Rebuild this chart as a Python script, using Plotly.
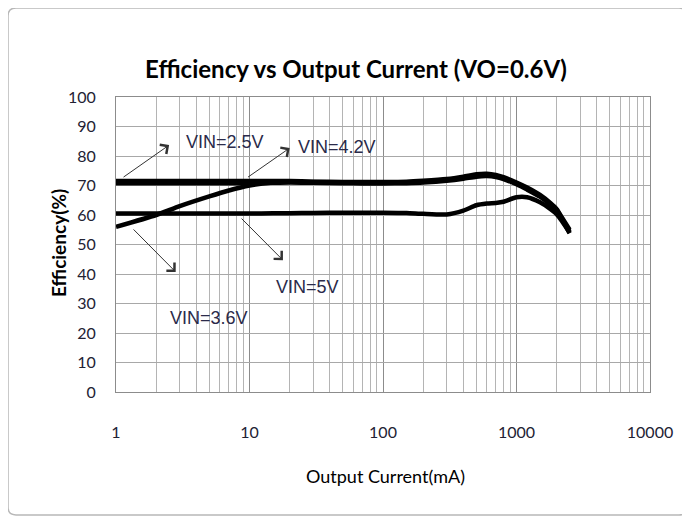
import plotly.graph_objects as go
import numpy as np

# ---- data ----
current_ma = [1, 2, 3, 5, 7, 10, 15, 20, 30, 50, 70, 100, 150, 200, 300, 400, 500, 600, 700, 800,
              1000, 1200, 1500, 1800, 2000, 2200, 2500]
eff_vin_2p5 = [71.5, 71.5, 71.5, 71.5, 71.5, 71.5, 71.5, 71.5, 71.3, 71.2, 71.2, 71.2, 71.3, 71.6, 72.2,
               73.0, 73.8, 74.0, 73.6, 72.8, 71.0, 69.3, 66.8, 64.0, 62.0, 59.0, 55.0]
eff_vin_4p2 = [70.8, 70.8, 70.8, 70.8, 70.8, 70.8, 70.9, 71.0, 70.9, 70.8, 70.7, 70.7, 70.8, 71.0, 71.6,
               72.3, 73.0, 73.2, 72.9, 72.2, 70.4, 68.6, 66.2, 63.4, 61.4, 58.4, 53.8]
eff_vin_3p6 = [56.0, 60.0, 63.0, 66.3, 68.3, 70.0, 71.0, 71.3, 71.2, 71.0, 71.0, 71.0, 71.1, 71.3, 71.9,
               72.6, 73.4, 73.6, 73.3, 72.5, 70.7, 69.0, 66.5, 63.7, 61.7, 58.7, 54.4]
eff_vin_5p0 = [60.5, 60.5, 60.5, 60.5, 60.5, 60.5, 60.6, 60.6, 60.7, 60.8, 60.8, 60.8, 60.7, 60.4, 60.2,
               61.5, 63.3, 63.9, 64.1, 64.5, 66.0, 66.0, 64.3, 62.0, 60.3, 57.8, 54.0]

series_names = ["VIN=2.5V", "VIN=4.2V", "VIN=3.6V", "VIN=5V"]
series_values = [eff_vin_2p5, eff_vin_4p2, eff_vin_3p6, eff_vin_5p0]

x_tick_vals = [1, 10, 100, 1000, 10000]
x_tick_text = ["1", "10", "100", "1000", "10000"]
y_tick_vals = list(range(0, 101, 10))

# label positions: (text, text x [mA], text y [%], arrow tail x, tail y, arrow head x, head y)
labels = [
    ("VIN=2.5V", 6.5, 84.7, 1.11, 72.5, 2.5, 83.7),
    ("VIN=4.2V", 45.0, 83.0, 9.5, 72.5, 20.0, 82.7),
    ("VIN=3.6V", 5.0, 25.0, 1.32, 55.6, 2.8, 40.7),
    ("VIN=5V", 27.0, 35.6, 8.5, 59.3, 17.8, 44.7),
]

# page has an 8px body margin: figure coords = page coords - 8
OFF = 8
W, H = 682, 512
PL, PR, PT, PB = 116, 650, 97, 392  # plot area in page pixels

def px(xp):
    return (xp - PL) / (PR - PL)

def py(yp):
    return (PB - yp) / (PB - PT)

fig = go.Figure()
for name, vals in zip(series_names, series_values):
    fig.add_trace(go.Scatter(x=current_ma, y=vals, mode="lines", name=name,
                             line=dict(color="black", width=4.5, shape="spline", smoothing=0.6)))

annotations = []
for text, tx, ty, ax0, ay0, hx, hy in labels:
    annotations.append(dict(x=np.log10(tx), y=ty, xref="x", yref="y", text=text, showarrow=False,
                            xanchor="center", yanchor="middle",
                            font=dict(family="Liberation Sans", size=18, color="#2a2a4a")))
    annotations.append(dict(x=np.log10(hx), y=hy, xref="x", yref="y", text="", showarrow=True,
                            axref="x", ayref="y", ax=np.log10(ax0), ay=ay0,
                            arrowhead=4, arrowsize=2.2, arrowwidth=1, arrowcolor="#333333"))

# axis titles
annotations.append(dict(x=px(58), y=py(243), xref="paper", yref="paper",
                        xanchor="center", yanchor="middle",
                        text="<b>Efficiency(%)</b>", textangle=-90, showarrow=False,
                        font=dict(family="Lato", size=19, color="black")))
annotations.append(dict(x=px(385), y=py(476), xref="paper", yref="paper",
                        xanchor="center", yanchor="middle",
                        text="Output Current(mA)", showarrow=False,
                        font=dict(family="Lato", size=18, color="black")))

# outer rounded border (paper coords)
L, R, T, B, r = 8, 687, 8, 515, 8
path = (f"M {px(L + r)},{py(T)} L {px(R - r)},{py(T)} Q {px(R)},{py(T)} {px(R)},{py(T + r)} "
        f"L {px(R)},{py(B - r)} Q {px(R)},{py(B)} {px(R - r)},{py(B)} "
        f"L {px(L + r)},{py(B)} Q {px(L)},{py(B)} {px(L)},{py(B - r)} "
        f"L {px(L)},{py(T + r)} Q {px(L)},{py(T)} {px(L + r)},{py(T)} Z")

fig.update_layout(
    width=W, height=H,
    margin=dict(l=PL - OFF, r=W - (PR - OFF), t=PT - OFF, b=H - (PB - OFF)),
    paper_bgcolor="white", plot_bgcolor="white",
    showlegend=False,
    title=dict(text="<b>Efficiency vs Output Current (VO=0.6V)</b>", x=(356 - OFF) / W, xanchor="center",
               y=1 - (70 - OFF) / H, yanchor="middle",
               font=dict(family="Lato", size=24, color="black")),
    annotations=annotations,
    shapes=[dict(type="path", path=path, xref="paper", yref="paper",
                 line=dict(color="#b8b8b8", width=1.5), layer="below")],
    xaxis=dict(type="log", range=[0, 4], tickvals=x_tick_vals, ticktext=x_tick_text,
               showgrid=True, gridcolor="#8c8c8c", gridwidth=1,
               minor=dict(showgrid=True, dtick="D1", gridcolor="#b4b4b4", gridwidth=1, ticks=""),
               showline=True, linecolor="#8c8c8c", mirror=True, ticks="", zeroline=False,
               ticklabelstandoff=26,
               tickfont=dict(family="Lato", size=16, color="#222233")),
    yaxis=dict(range=[0, 100], tickvals=y_tick_vals, showgrid=True, gridcolor="#a8a8a8", gridwidth=1,
               showline=True, linecolor="#8c8c8c", mirror=True, ticks="", zeroline=False,
               ticklabelstandoff=16,
               tickfont=dict(family="Lato", size=16, color="#222233")),
)

fig.write_html("out.html")
